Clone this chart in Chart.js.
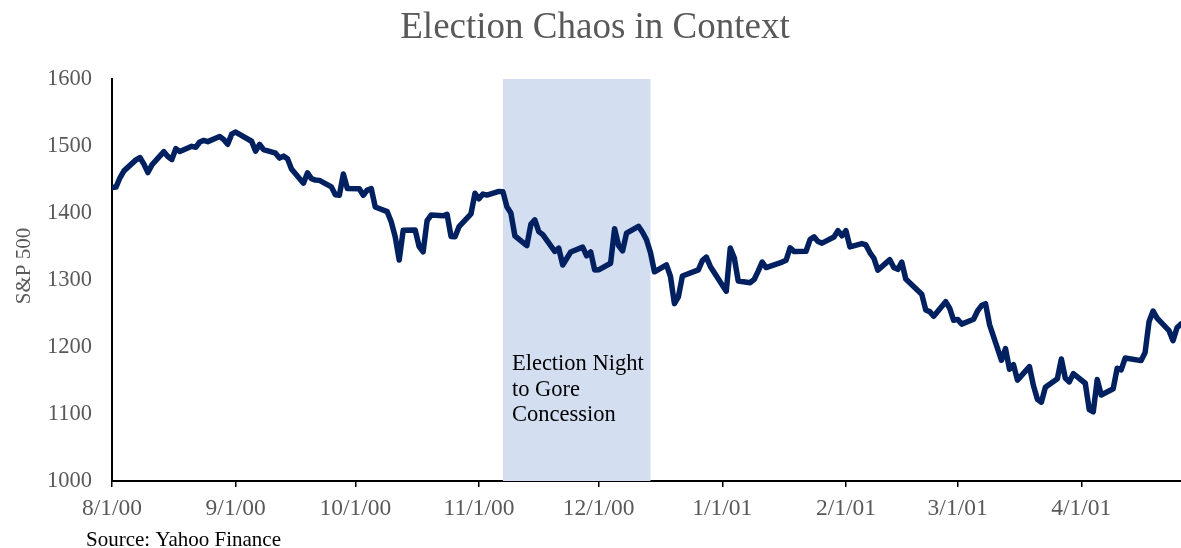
<!DOCTYPE html>
<html>
<head>
<meta charset="utf-8">
<script src="https://cdn.jsdelivr.net/npm/chart.js@4.4.1/dist/chart.umd.min.js"></script>
<style>
  html, body { margin: 0; padding: 0; background: #fff; }
  #wrap { width: 1181px; height: 548px; position: relative; }
</style>
</head>
<body>
<div id="wrap"><canvas id="c" width="1181" height="548"></canvas></div>
<script>
const chartTitle = 'Election Chaos in Context';
const yAxisTitle = 'S&P 500';
const sourceNote = 'Source: Yahoo Finance';
const bandLabel = ['Election Night', 'to Gore', 'Concession'];
const bandStart = '11/7/00';
const bandEnd = '12/14/00';
const axisStart = '8/1/00';
const axisEnd = '4/26/01';
const tickLabels = ['8/1/00','9/1/00','10/1/00','11/1/00','12/1/00','1/1/01','2/1/01','3/1/01','4/1/01'];
const yTicks = [1000, 1100, 1200, 1300, 1400, 1500, 1600];

const dates = [
 '8/1/00','8/2/00','8/3/00','8/4/00','8/7/00','8/8/00','8/9/00','8/10/00','8/11/00','8/14/00','8/15/00','8/16/00','8/17/00','8/18/00','8/21/00','8/22/00','8/23/00','8/24/00','8/25/00','8/28/00','8/29/00','8/30/00','8/31/00',
 '9/1/00','9/5/00','9/6/00','9/7/00','9/8/00','9/11/00','9/12/00','9/13/00','9/14/00','9/15/00','9/18/00','9/19/00','9/20/00','9/21/00','9/22/00','9/25/00','9/26/00','9/27/00','9/28/00','9/29/00',
 '10/2/00','10/3/00','10/4/00','10/5/00','10/6/00','10/9/00','10/10/00','10/11/00','10/12/00','10/13/00','10/16/00','10/17/00','10/18/00','10/19/00','10/20/00','10/23/00','10/24/00','10/25/00','10/26/00','10/27/00','10/30/00','10/31/00',
 '11/1/00','11/2/00','11/3/00','11/6/00','11/7/00','11/8/00','11/9/00','11/10/00','11/13/00','11/14/00','11/15/00','11/16/00','11/17/00','11/20/00','11/21/00','11/22/00','11/24/00','11/27/00','11/28/00','11/29/00','11/30/00',
 '12/1/00','12/4/00','12/5/00','12/6/00','12/7/00','12/8/00','12/11/00','12/12/00','12/13/00','12/14/00','12/15/00','12/18/00','12/19/00','12/20/00','12/21/00','12/22/00','12/26/00','12/27/00','12/28/00','12/29/00',
 '1/2/01','1/3/01','1/4/01','1/5/01','1/8/01','1/9/01','1/10/01','1/11/01','1/12/01','1/16/01','1/17/01','1/18/01','1/19/01','1/22/01','1/23/01','1/24/01','1/25/01','1/26/01','1/29/01','1/30/01','1/31/01',
 '2/1/01','2/2/01','2/5/01','2/6/01','2/7/01','2/8/01','2/9/01','2/12/01','2/13/01','2/14/01','2/15/01','2/16/01','2/20/01','2/21/01','2/22/01','2/23/01','2/26/01','2/27/01','2/28/01',
 '3/1/01','3/2/01','3/5/01','3/6/01','3/7/01','3/8/01','3/9/01','3/12/01','3/13/01','3/14/01','3/15/01','3/16/01','3/19/01','3/20/01','3/21/01','3/22/01','3/23/01','3/26/01','3/27/01','3/28/01','3/29/01','3/30/01',
 '4/2/01','4/3/01','4/4/01','4/5/01','4/6/01','4/9/01','4/10/01','4/11/01','4/12/01','4/16/01','4/17/01','4/18/01','4/19/01','4/20/01','4/23/01','4/24/01','4/25/01','4/26/01'
];

const closes = [
 1438.1,1438.7,1452.6,1462.9,1479.3,1482.8,1472.9,1460.3,1471.8,1491.6,1484.4,1479.9,1496.1,1491.7,1499.5,1498.1,1506.0,1508.3,1506.5,1514.1,1509.8,1502.6,1517.7,
 1520.8,1507.1,1492.3,1502.5,1494.5,1489.3,1482.0,1484.9,1480.9,1465.8,1444.5,1459.9,1451.3,1449.1,1448.7,1439.0,1427.2,1426.6,1458.3,1436.5,
 1436.2,1426.5,1434.3,1436.3,1409.0,1402.0,1387.0,1364.6,1329.8,1374.2,1374.6,1350.0,1342.1,1388.8,1396.9,1395.8,1398.1,1364.9,1364.4,1379.6,1398.7,1429.4,
 1421.2,1428.3,1426.7,1432.2,1431.9,1409.3,1400.1,1366.0,1351.3,1383.0,1389.8,1372.3,1367.7,1342.6,1347.4,1322.4,1341.8,1349.0,1336.1,1341.9,1315.0,
 1315.2,1325.0,1376.5,1351.5,1343.6,1369.9,1380.2,1371.2,1360.0,1340.9,1312.2,1322.7,1305.6,1264.7,1274.9,1306.0,1315.2,1328.9,1334.2,1320.3,
 1283.3,1347.6,1333.3,1298.4,1295.9,1300.8,1313.3,1326.8,1318.6,1326.7,1329.5,1348.0,1342.5,1342.9,1360.4,1364.3,1357.5,1355.0,1364.2,1373.7,1366.0,
 1373.5,1349.5,1354.3,1352.3,1340.9,1332.5,1314.8,1330.3,1318.8,1315.9,1326.6,1301.5,1278.9,1255.3,1252.8,1245.9,1267.7,1257.9,1239.9,
 1241.2,1234.2,1241.4,1253.8,1261.9,1264.7,1233.4,1180.2,1197.7,1166.7,1173.6,1150.5,1170.8,1142.6,1122.1,1117.6,1139.8,1152.7,1182.2,1153.3,1148.0,1160.3,
 1145.9,1106.5,1103.3,1151.4,1128.4,1137.6,1168.4,1165.9,1183.5,1179.7,1191.8,1238.2,1253.7,1243.0,1224.4,1209.5,1228.8,1234.5
];

function dayNum(s) {
  const [m, d, y] = s.split('/').map(Number);
  const [m0, d0, y0] = axisStart.split('/').map(Number);
  return Math.round((Date.UTC(2000 + y, m - 1, d) - Date.UTC(2000 + y0, m0 - 1, d0)) / 86400000);
}

const points = dates.map((d, i) => ({ x: dayNum(d), y: closes[i] }));
const SERIF = '"Liberation Serif", "Times New Roman", serif';
const GREY = '#595959';

const decorPlugin = {
  id: 'decor',
  beforeDatasetsDraw(chart) {
    const { ctx, chartArea, scales } = chart;
    const x1 = scales.x.getPixelForValue(dayNum(bandStart));
    const x2 = scales.x.getPixelForValue(dayNum(bandEnd));
    ctx.save();
    ctx.fillStyle = '#D3DEF1';
    ctx.fillRect(x1, chartArea.top, x2 - x1, chartArea.bottom - chartArea.top);
    ctx.fillStyle = '#000';
    ctx.font = '22.5px ' + SERIF;
    ctx.textBaseline = 'alphabetic';
    ctx.textAlign = 'left';
    bandLabel.forEach((t, i) => ctx.fillText(t, x1 + 9, chartArea.top + 291 + i * 25.7));
    ctx.restore();
  },
  afterDraw(chart) {
    const { ctx } = chart;
    ctx.save();
    ctx.fillStyle = GREY;
    ctx.font = '37px ' + SERIF;
    ctx.textAlign = 'center';
    ctx.textBaseline = 'alphabetic';
    ctx.fillText(chartTitle, 595, 38);
    ctx.save();
    ctx.translate(30, 266);
    ctx.rotate(-Math.PI / 2);
    ctx.font = '21px ' + SERIF;
    ctx.textAlign = 'center';
    ctx.fillText(yAxisTitle, 0, 0);
    ctx.restore();
    ctx.fillStyle = '#000';
    ctx.font = '21px ' + SERIF;
    ctx.textAlign = 'left';
    ctx.fillText(sourceNote, 86, 546);
    ctx.restore();
  }
};

new Chart(document.getElementById('c'), {
  type: 'line',
  data: {
    datasets: [{
      data: points,
      borderColor: '#002060',
      borderWidth: 5.5,
      pointRadius: 0,
      tension: 0,
      borderJoinStyle: 'round',
      borderCapStyle: 'round'
    }]
  },
  options: {
    responsive: false,
    animation: false,
    events: [],
    layout: { padding: { top: 79, right: 0, left: 0, bottom: 0 } },
    plugins: { legend: { display: false }, title: { display: false }, tooltip: { enabled: false } },
    scales: {
      x: {
        type: 'linear',
        min: dayNum(axisStart),
        max: dayNum(axisEnd),
        afterFit(scale) { scale.height = 67; },
        afterBuildTicks(scale) { scale.ticks = tickLabels.map(l => ({ value: dayNum(l) })); },
        grid: { display: true, drawOnChartArea: false, drawTicks: true, tickLength: 6, color: '#000', lineWidth: 1.5 },
        border: { display: true, color: '#000', width: 2 },
        ticks: {
          autoSkip: false, maxRotation: 0, padding: 8,
          color: GREY, font: { family: SERIF, size: 23.5 },
          callback: (v, i) => tickLabels[i]
        }
      },
      y: {
        min: yTicks[0],
        max: yTicks[yTicks.length - 1],
        afterFit(scale) { scale.width = 112; },
        afterBuildTicks(scale) { scale.ticks = yTicks.map(v => ({ value: v })); },
        grid: { display: false, drawTicks: false },
        border: { display: true, color: '#000', width: 2 },
        ticks: {
          padding: 20, color: GREY, font: { family: SERIF, size: 22.5 },
          callback: v => String(v)
        }
      }
    }
  },
  plugins: [decorPlugin]
});
</script>
</body>
</html>
